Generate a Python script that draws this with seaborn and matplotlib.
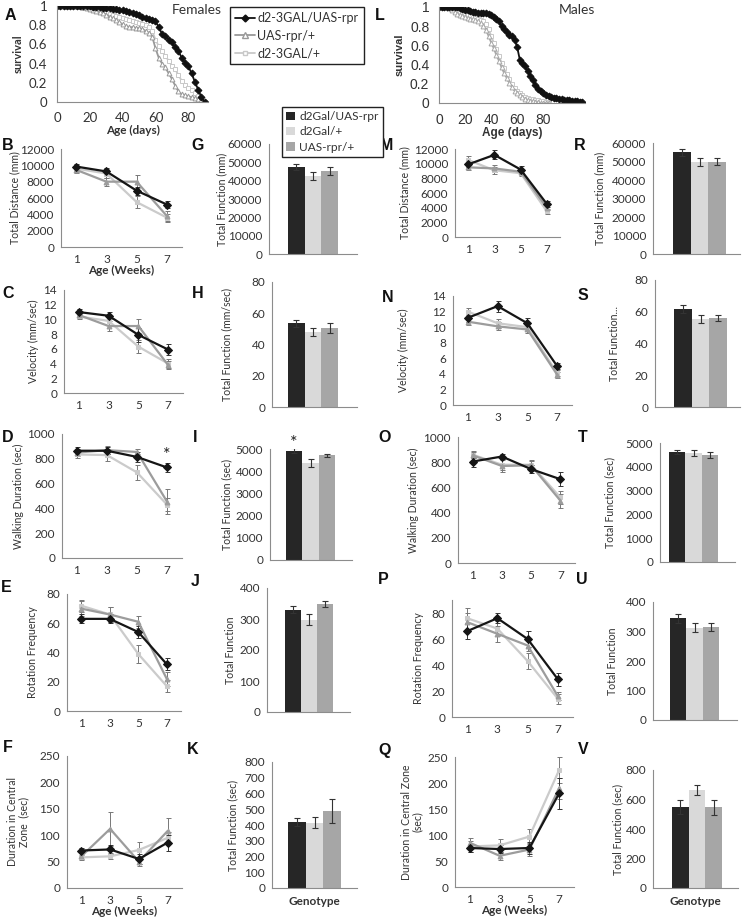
import numpy as np
import pandas as pd
import matplotlib.pyplot as plt
import seaborn as sns
from matplotlib.lines import Line2D
from matplotlib.patches import Patch

sns.set_theme(style='white')
plt.rcParams['font.family'] = ['Lato', 'DejaVu Sans']

W, H = 746, 924

# genotypes in bar order
genotypes = ['d2Gal/UAS-rpr', 'd2Gal/+', 'UAS-rpr/+']
surv_labels = ['d2-3GAL/UAS-rpr', 'UAS-rpr/+', 'd2-3GAL/+']
weeks = ['1', '3', '5', '7']

bar_colors = ['#262626', '#d9d9d9', '#a6a6a6']
line_colors = ['#151515', '#cbcbcb', '#9c9c9c']
line_markers = ['D', 's', '^']

# survival, females (age in days)
fem_age = np.arange(0, 92, 2)
fem_black = [1, 1, 1, 1, 1, 1, 1, 1, 1, 1,
             1, 0.99, 0.99, 0.99, 0.98, 0.98, 0.98, 0.97, 0.97, 0.96,
             0.96, 0.95, 0.94, 0.93, 0.92, 0.91, 0.89, 0.87, 0.86, 0.85,
             0.84, 0.78, 0.71, 0.69, 0.65, 0.62, 0.57, 0.53, 0.46, 0.41,
             0.37, 0.30, 0.21, 0.13, 0.05, 0.0]
fem_light = [1, 1, 1, 1, 1, 1, 0.99, 0.99, 0.98, 0.98,
             0.97, 0.97, 0.96, 0.95, 0.94, 0.93, 0.92, 0.91, 0.90, 0.89,
             0.87, 0.86, 0.85, 0.84, 0.83, 0.82, 0.81, 0.80, 0.78, 0.74,
             0.65, 0.58, 0.53, 0.48, 0.43, 0.38, 0.34, 0.28, 0.22, 0.18,
             0.15, 0.12, 0.09, 0.06, 0.03, 0.0]
fem_mid = [1, 1, 1, 1, 1, 1, 1, 1, 0.99, 0.98,
           0.97, 0.96, 0.95, 0.94, 0.93, 0.91, 0.89, 0.87, 0.85, 0.83,
           0.81, 0.79, 0.78, 0.78, 0.77, 0.77, 0.76, 0.74, 0.72, 0.68,
           0.56, 0.46, 0.40, 0.36, 0.30, 0.24, 0.17, 0.11, 0.08, 0.07,
           0.06, 0.05, 0.04, 0.03, 0.02, 0.0]

# survival, males
male_age_black = np.arange(0, 112, 2)
male_black = [1, 1, 1, 1, 1, 1, 1, 1, 0.99, 0.98,
              0.97, 0.97, 0.96, 0.95, 0.95, 0.94, 0.94, 0.94, 0.94, 0.93,
              0.92, 0.90, 0.88, 0.85, 0.80, 0.77, 0.74, 0.71, 0.70, 0.66,
              0.58, 0.45, 0.42, 0.39, 0.33, 0.28, 0.24, 0.19, 0.15, 0.12,
              0.10, 0.08, 0.07, 0.06, 0.05, 0.05, 0.04, 0.04, 0.03, 0.03,
              0.03, 0.02, 0.02, 0.02, 0.01, 0.01]
male_age_grey = np.arange(0, 86, 2)
male_mid = [1, 1, 1, 1, 0.99, 0.97, 0.95, 0.93, 0.92, 0.91,
            0.90, 0.89, 0.88, 0.87, 0.86, 0.85, 0.83, 0.80, 0.76, 0.70,
            0.63, 0.57, 0.50, 0.44, 0.37, 0.31, 0.26, 0.21, 0.17, 0.13,
            0.10, 0.08, 0.06, 0.04, 0.03, 0.02, 0.02, 0.01, 0.01, 0.0,
            0.0, 0.0, 0.0]
male_light = [1, 1, 1, 1, 1, 0.99, 0.98, 0.97, 0.95, 0.94,
              0.93, 0.92, 0.91, 0.90, 0.89, 0.88, 0.86, 0.85, 0.82, 0.77,
              0.70, 0.63, 0.56, 0.49, 0.42, 0.36, 0.30, 0.25, 0.20, 0.16,
              0.12, 0.10, 0.08, 0.06, 0.05, 0.04, 0.04, 0.03, 0.03, 0.02,
              0.02, 0.01, 0.0]

# weekly means / sem, rows = genotypes (black, light, mid)
B_mean = [[9850, 9250, 6900, 5200], [9600, 9000, 5500, 3600], [9450, 8000, 8000, 3800]]
B_err = [[300, 400, 500, 450], [400, 500, 700, 500], [350, 500, 800, 600]]
C_mean = [[11.0, 10.5, 7.9, 5.9], [10.4, 9.8, 6.3, 4.0], [10.6, 9.1, 9.1, 3.8]]
C_err = [[0.4, 0.5, 0.9, 0.7], [0.4, 0.5, 0.9, 0.6], [0.4, 0.7, 0.9, 0.5]]
D_mean = [[865, 865, 815, 730], [835, 830, 690, 430], [850, 870, 855, 455]]
D_err = [[30, 30, 40, 35], [30, 45, 60, 50], [30, 30, 20, 100]]
E_mean = [[63, 63, 54, 32], [72, 66, 39, 17], [70, 66, 61, 22]]
E_err = [[3, 3, 4, 4], [4, 5, 6, 4], [5, 5, 4, 5]]
F_mean = [[71, 73, 55, 86], [58, 60, 72, 95], [60, 112, 50, 108]]
F_err = [[5, 8, 10, 15], [5, 6, 16, 12], [6, 32, 8, 25]]

M_mean = [[9900, 11200, 9200, 4500], [10500, 9100, 8700, 3500], [9500, 9350, 8900, 4000]]
M_err = [[400, 600, 450, 400], [500, 500, 400, 300], [300, 500, 400, 350]]
N_mean = [[11.2, 12.7, 10.5, 5.0], [12.0, 10.5, 10.0, 4.1], [10.7, 10.1, 9.7, 3.9]]
N_err = [[0.6, 0.7, 0.7, 0.4], [0.5, 0.6, 0.5, 0.4], [0.4, 0.5, 0.5, 0.4]]
O_mean = [[805, 845, 745, 665], [860, 780, 780, 520], [855, 770, 775, 495]]
O_err = [[40, 20, 30, 55], [25, 45, 30, 55], [25, 50, 40, 55]]
P_mean = [[66, 76, 60, 29], [76, 68, 43, 14], [73, 64, 55, 16]]
P_err = [[6, 4, 6, 5], [8, 6, 6, 4], [7, 6, 4, 3]]
Q_mean = [[75, 73, 75, 180], [78, 80, 97, 225], [85, 60, 72, 190]]
Q_err = [[8, 8, 12, 30], [10, 12, 14, 25], [10, 8, 12, 20]]

# totals (bars)
G_mean, G_err = [47500, 42800, 45200], [1800, 2200, 2300]
H_mean, H_err = [53.5, 48.0, 50.5], [2.0, 2.5, 3.0]
I_mean, I_err = [4930, 4370, 4720], [100, 170, 70]
J_mean, J_err = [330, 298, 348], [12, 18, 10]
K_mean, K_err = [420, 415, 490], [25, 35, 75]
R_mean, R_err = [55000, 49500, 50000], [2000, 2200, 1800]
S_mean, S_err = [62.0, 55.5, 56.0], [2.5, 2.5, 2.0]
T_mean, T_err = [4620, 4570, 4500], [100, 130, 130]
U_mean, U_err = [345, 313, 315], [15, 15, 14]
V_mean, V_err = [550, 665, 548], [45, 35, 50]

TXT = '#333333'
SPINE = '#8c8c8c'

fig = plt.figure(figsize=(W / 100, H / 100), dpi=100)


def add_ax(left, top, right, bottom):
    ax = fig.add_axes([left / W, 1 - bottom / H, (right - left) / W, (bottom - top) / H])
    for s in ['top', 'right']:
        ax.spines[s].set_visible(False)
    for s in ['left', 'bottom']:
        ax.spines[s].set_color(SPINE)
        ax.spines[s].set_linewidth(0.8)
    ax.tick_params(axis='both', colors=SPINE, labelcolor=TXT, labelsize=8.5,
                   direction='out', length=3, width=0.8, pad=2)
    ax.set_facecolor('none')
    return ax


def set_ylab(ax, text, px, left, right, size=7.6):
    ax.set_ylabel(text, fontsize=size, color=TXT, va='center', linespacing=1.0)
    ax.yaxis.set_label_coords((px - left) / (right - left), 0.5)


def line_panel(rect, mean, err, ymax, step, ylabel, lab_x, top_tick=None, xlabel=False):
    left, top, right, bottom = rect
    ax = add_ax(*rect)
    pos = np.arange(4)
    for i in [1, 2, 0]:
        ax.errorbar(pos, mean[i], yerr=err[i], fmt='none', ecolor='#333333' if i == 0 else '#777777',
                    elinewidth=0.7, capsize=1.8, capthick=0.7, zorder=3)
        sns.lineplot(x=pos, y=mean[i], ax=ax, color=line_colors[i], linewidth=1.6,
                     marker=line_markers[i], markersize=3.5 if i else 4,
                     markerfacecolor=line_colors[i], markeredgecolor=line_colors[i], zorder=4)
    ax.set_xlim(-0.5, 3.5)
    ax.set_ylim(0, ymax)
    last = top_tick if top_tick is not None else ymax
    ax.set_yticks(np.arange(0, last + step / 2, step))
    ax.set_xticks([-0.5, 0.5, 1.5, 2.5, 3.5])
    ax.set_xticklabels([])
    ax.set_xticks(pos, minor=True)
    ax.set_xticklabels(weeks, minor=True)
    ax.tick_params(axis='x', which='minor', length=0, pad=5, labelsize=8.5, labelcolor=TXT)
    set_ylab(ax, ylabel, lab_x, left, right)
    if xlabel:
        ax.set_xlabel('Age (Weeks)', fontsize=8.5, fontweight='bold', color=TXT, labelpad=0)
    return ax


def bar_panel(rect, b0, b1, mean, err, ymax, step, ylabel, lab_x, genotype_label=False):
    left, top, right, bottom = rect
    ax = add_ax(*rect)
    sns.barplot(x=genotypes, y=mean, hue=genotypes, order=genotypes, hue_order=genotypes,
                palette=bar_colors, saturation=1, width=1, linewidth=0, legend=False, ax=ax)
    ax.errorbar(np.arange(3), mean, yerr=err, fmt='none', ecolor='#333333',
                elinewidth=0.8, capsize=2, capthick=0.8, zorder=3)
    s = (b1 - b0) / 3
    ax.set_xlim(-0.5 - (b0 - left) / s, 2.5 + (right - b1) / s)
    ax.set_ylim(0, ymax)
    ax.set_yticks(np.arange(0, ymax + step / 2, step))
    ax.set_xticks([])
    ax.set_xlabel('')
    set_ylab(ax, ylabel, lab_x, left, right)
    if genotype_label:
        ax.set_xlabel('Genotype', fontsize=8.5, fontweight='bold', color=TXT, labelpad=6)
    return ax


def surv_panel(rect, series, xmax, font, tsize):
    ax = add_ax(*rect)
    for ages, vals, c, m, filled in series:
        sns.lineplot(x=ages, y=vals, ax=ax, color=c, linewidth=1.3, marker=m, markersize=3.5,
                     markerfacecolor=c if filled else 'white', markeredgecolor=c,
                     markeredgewidth=0.7)
    ax.set_xlim(0, xmax)
    ax.set_ylim(0, 1.0)
    ax.set_xticks([0, 20, 40, 60, 80])
    ax.set_yticks([0, 0.2, 0.4, 0.6, 0.8, 1.0])
    ax.set_yticklabels(['0', '0.2', '0.4', '0.6', '0.8', '1'])
    ax.tick_params(axis='both', labelsize=tsize, pad=4)
    for lab in ax.get_xticklabels() + ax.get_yticklabels():
        lab.set_family(font)
    ax.set_ylabel('survival', fontsize=8, fontweight='bold', color=TXT, family=font, labelpad=4)
    ax.set_xlabel('Age (days)', fontsize=8.5, fontweight='bold', color=TXT, family=font, labelpad=1)
    ax.margins(x=0)
    return ax


# survival panels
axA = surv_panel((57, 6, 208, 102), [
    (fem_age, fem_light, '#c8c8c8', 's', False),
    (fem_age, fem_mid, '#999999', '^', False),
    (fem_age, fem_black, '#111111', 'D', True)], 92, 'Lato', 9.5)
axL = surv_panel((439, 7, 585, 103), [
    (male_age_grey, male_light, '#c8c8c8', 's', False),
    (male_age_grey, male_mid, '#a8a8a8', '^', False),
    (male_age_black, male_black, '#111111', 'D', True)], 112, 'Liberation Sans', 10)
axL.set_yticks(np.arange(0, 1.01, 0.1), minor=True)
axL.tick_params(axis='y', which='minor', length=2, colors=SPINE)
axL.xaxis.labelpad = 0

fig.text(197 / W, 1 - 10 / H, 'Females', fontsize=10, color=TXT, ha='center', va='center')
fig.text(577 / W, 1 - 10 / H, 'Males', fontsize=10, color=TXT, ha='center', va='center')

surv_handles = [
    Line2D([], [], color='#111111', marker='D', markersize=3.5, lw=1.3),
    Line2D([], [], color='#999999', marker='^', markersize=4, mfc='white', lw=1.3),
    Line2D([], [], color='#c8c8c8', marker='s', markersize=3.5, mfc='white', lw=1.3)]
fig.legend(surv_handles, surv_labels, loc='upper left', bbox_to_anchor=(230 / W, 1 - 7 / H),
           frameon=True, fancybox=False, edgecolor='#222222', fontsize=9, handlelength=1.6,
           handletextpad=0.2, labelspacing=0.45, borderpad=0.4, borderaxespad=0,
           framealpha=1, labelcolor=TXT)
bar_handles = [Patch(facecolor=c, edgecolor='none') for c in bar_colors]
fig.legend(bar_handles, genotypes, loc='upper left', bbox_to_anchor=(282 / W, 1 - 107 / H),
           frameon=True, fancybox=False, edgecolor='#222222', fontsize=8.6, handlelength=0.7,
           handleheight=0.7, handletextpad=0.4, labelspacing=0.35, borderpad=0.35,
           borderaxespad=0, framealpha=1, labelcolor=TXT)

# females, weekly
line_panel((61, 149, 182, 247), B_mean, B_err, 12000, 2000, 'Total Distance (mm)', 15, xlabel=True)
line_panel((64, 290, 183, 393), C_mean, C_err, 14, 2, 'Velocity (mm/sec)', 33)
axD = line_panel((62, 434, 182, 558), D_mean, D_err, 1000, 200, 'Walking Duration (sec)', 18)
axD.text(3, 830, '*', ha='center', va='center', fontsize=13, color='#222222')
line_panel((67, 594, 181, 711), E_mean, E_err, 80, 20, 'Rotation Frequency', 33)
line_panel((67, 756, 182, 888), F_mean, F_err, 250, 50, 'Duration in Central\nZone  (sec)', 18, xlabel=True)

# females, totals
bar_panel((269, 144, 357, 254), 288, 338, G_mean, G_err, 60000, 10000, 'Total Function (mm)', 222)
bar_panel((272, 282, 357, 407), 288, 338, H_mean, H_err, 80, 20, 'Total Function (mm/sec)', 227)
axI = bar_panel((270, 449, 352, 560), 286, 335, I_mean, I_err, 5000, 1000, 'Total Function (sec)', 227)
axI.text(0, 5280, '*', ha='center', va='center', fontsize=13, color='#222222', clip_on=False)
bar_panel((267, 588, 350, 712), 285, 333, J_mean, J_err, 400, 100, 'Total Function', 230)
bar_panel((272, 762, 357, 888), 288, 341, K_mean, K_err, 800, 100, 'Total Function (sec)', 233, True)

# males, weekly
line_panel((455, 149, 560, 237), M_mean, M_err, 12000, 2000, 'Total Distance (mm)', 405)
line_panel((453, 296, 572, 405), N_mean, N_err, 14, 2, 'Velocity (mm/sec)', 403)
line_panel((458, 437, 575, 563), O_mean, O_err, 1000, 200, 'Walking Duration (sec)', 413)
line_panel((452, 600, 573, 717), P_mean, P_err, 90, 20, 'Rotation Frequency', 419, top_tick=80)
line_panel((455, 757, 574, 887), Q_mean, Q_err, 250, 50, 'Duration in Central Zone\n(sec)', 412, xlabel=True)

# males, totals
bar_panel((653, 143, 740, 254), 673, 726, R_mean, R_err, 60000, 10000, 'Total Function (mm)', 600)
bar_panel((655, 280, 740, 407), 674, 727, S_mean, S_err, 80, 20, 'Total Function...', 615)
bar_panel((660, 443, 735, 562), 669, 718, T_mean, T_err, 5000, 1000, 'Total Function (sec)', 610)
bar_panel((653, 602, 737, 720), 670, 719, U_mean, U_err, 400, 100, 'Total Function', 612)
bar_panel((653, 770, 738, 888), 672, 722, V_mean, V_err, 800, 200, 'Total Function (sec)', 618, True)

# panel letters
letters = {'A': (10, 15), 'L': (380, 15), 'B': (8, 145), 'G': (198, 146), 'M': (387, 146),
           'R': (580, 146), 'C': (8, 294), 'H': (198, 294), 'N': (388, 297), 'S': (583, 296),
           'D': (8, 437), 'I': (195, 437), 'O': (385, 437), 'T': (583, 437), 'E': (6, 587),
           'J': (195, 582), 'P': (383, 580), 'U': (582, 580), 'F': (8, 748), 'K': (193, 750),
           'Q': (385, 750), 'V': (583, 750)}
for k, (x, y) in letters.items():
    fig.text(x / W, 1 - y / H, k, fontsize=11.5, fontweight='bold', family='Liberation Sans',
             ha='center', va='center', color='#111111')

fig.savefig('out.png', dpi=100, facecolor='white')
